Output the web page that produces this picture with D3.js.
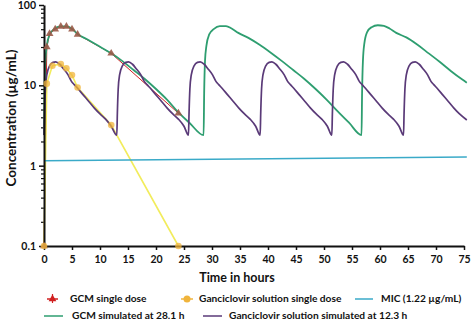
<!DOCTYPE html>
<html>
<head>
<meta charset="utf-8">
<script src="https://cdn.jsdelivr.net/npm/d3@7"></script>
<style>
  body { margin: 0; background: #fff; }
  text { font-family: Lato, "Liberation Sans", sans-serif; font-weight: bold; fill: #111; }
</style>
</head>
<body>
<svg id="chart" width="472" height="326"></svg>
<script>
// tick values
var xTicks = [0, 5, 10, 15, 20, 25, 30, 35, 40, 45, 50, 55, 60, 65, 70, 75];
var yTicks = [0.1, 1, 10, 100];
var yTickLabels = ["0.1", "1", "10", "100"];

// observed data (time h, conc ug/mL)
var gcmObserved = [[0, 0.1], [0.5, 30], [1, 44], [2, 50], [3, 54], [4, 54], [5, 50], [6, 43], [12, 25], [24, 4.5]];
var solutionObserved = [[0, 0.1], [0.5, 10.5], [1.5, 17.5], [3, 18.4], [4, 16.3], [5, 13.4], [6, 9.4], [12, 3.2], [24, 0.1]];

// MIC line
var micLine = [[0, 1.15], [75.5, 1.28]];

// GCM simulated at 28.1 h
var gcmSimulated = [
  [0, 2.4], [0.1, 8], [0.25, 20], [0.5, 31], [1, 43], [1.8, 50], [2.9, 54], [4, 54], [5, 50.5], [6, 43.5],
  [8, 36.5], [10, 30.2], [12, 25], [14, 20], [16, 15.5], [18, 12], [20, 9], [22, 6.6], [24, 4.6], [26, 3.4], [28.5, 2.4],
  [28.6, 8], [28.75, 20], [29, 31], [29.5, 43], [30.3, 50], [31.4, 54.5], [32.5, 54.5], [33.5, 51], [34.7, 45],
  [36.5, 39], [38.5, 32], [40.5, 25.5], [42.5, 20], [44.5, 15.5], [46.5, 12], [48.5, 9], [50.5, 6.6], [52.5, 4.7], [54.5, 3.4], [56.7, 2.4],
  [56.8, 8], [56.95, 20], [57.2, 33], [57.7, 46], [58.5, 53], [59.6, 56], [60.7, 55], [61.7, 51], [62.9, 45],
  [64.7, 39.5], [66.7, 32], [68.7, 25], [70.7, 19.5], [72.7, 15], [74.7, 11.8], [75.5, 10.8]
];

// Ganciclovir solution simulated at 12.3 h
var solutionSimulated = [
  [0, 2.4], [0.1, 4.5], [0.25, 9], [0.5, 13.5], [1, 17.5], [1.6, 19.3], [2.1, 19.6], [2.8, 18.3], [3.5, 16], [4.3, 13.5],
  [4.9, 11.2], [5.4, 10.2], [6, 9.2], [7, 7.6], [8, 6.3], [9, 5.2], [10, 4.4], [11, 3.8], [12, 3.1], [13, 2.4],
  [13.1, 4.5], [13.25, 9], [13.5, 13.5], [14, 17.5], [14.6, 19.3], [15.1, 19.6], [15.8, 18.3], [16.5, 16], [17.3, 13.5],
  [17.9, 11.2], [18.4, 10.2], [19, 9.2], [20, 7.6], [21, 6.3], [22, 5.2], [23, 4.4], [24, 3.8], [25, 3.1], [25.8, 2.4],
  [25.9, 4.5], [26.05, 9], [26.3, 13.5], [26.8, 17.5], [27.4, 19.3], [27.9, 19.6], [28.6, 18.3], [29.3, 16], [30.1, 13.5],
  [30.7, 11.2], [31.2, 10.2], [31.8, 9.2], [32.8, 7.6], [33.8, 6.3], [34.8, 5.2], [35.8, 4.4], [36.8, 3.8], [37.8, 3.1], [38.6, 2.4],
  [38.7, 4.5], [38.85, 9], [39.1, 13.5], [39.6, 17.5], [40.2, 19.3], [40.7, 19.6], [41.4, 18.3], [42.1, 16], [42.9, 13.5],
  [43.5, 11.2], [44, 10.2], [44.6, 9.2], [45.6, 7.6], [46.6, 6.3], [47.6, 5.2], [48.6, 4.4], [49.6, 3.8], [50.6, 3.1], [51.4, 2.4],
  [51.5, 4.5], [51.65, 9], [51.9, 13.5], [52.4, 17.5], [53, 19.3], [53.5, 19.6], [54.2, 18.3], [54.9, 16], [55.7, 13.5],
  [56.3, 11.2], [56.8, 10.2], [57.4, 9.2], [58.4, 7.6], [59.4, 6.3], [60.4, 5.2], [61.4, 4.4], [62.4, 3.8], [63.4, 3.1], [64.2, 2.4],
  [64.3, 4.5], [64.45, 9], [64.7, 13.5], [65.2, 17.5], [65.8, 19.3], [66.3, 19.6], [67, 18.3], [67.7, 16], [68.5, 13.5],
  [69.1, 11.2], [69.6, 10.2], [70.2, 9.2], [71.2, 7.6], [72.2, 6.3], [73.2, 5.2], [74.2, 4.4], [75.5, 3.7]
];

var colGreen = "#2e9e70", colPurple = "#5a3a78", colMic = "#3aaac8",
    colYellow = "#f2ec5c", colCircle = "#f0b43c", colRed = "#d02020";

var svg = d3.select("#chart");

var x = d3.scaleLinear().domain([0, 75]).range([44, 464]);
var y = d3.scaleLog().domain([0.1, 100]).range([246, 5]);

// minor ticks on y
var minorTicks = [];
[0.1, 1, 10].forEach(function(d) {
  for (var k = 2; k <= 9; k++) minorTicks.push(d * k);
});
svg.append("g")
  .attr("transform", "translate(44,0)")
  .call(d3.axisLeft(y).tickValues(minorTicks).tickSize(3).tickFormat(""))
  .call(function(g) { g.select(".domain").remove(); })
  .selectAll("line").attr("stroke", "#111").attr("stroke-width", 1.2);

var line = d3.line()
  .x(function(d) { return x(d[0]); })
  .y(function(d) { return y(d[1]); });
var smooth = d3.line()
  .x(function(d) { return x(d[0]); })
  .y(function(d) { return y(d[1]); })
  .curve(d3.curveMonotoneX);

// observed lines (under the simulated ones)
svg.append("path").datum(gcmObserved)
  .attr("d", line).attr("fill", "none")
  .attr("stroke", colRed).attr("stroke-width", 1);
svg.append("path").datum(solutionObserved)
  .attr("d", line).attr("fill", "none")
  .attr("stroke", colYellow).attr("stroke-width", 1.6);

// simulated lines
svg.append("path").datum(micLine)
  .attr("d", line).attr("fill", "none")
  .attr("stroke", colMic).attr("stroke-width", 1.6);
svg.append("path").datum(gcmSimulated)
  .attr("d", smooth).attr("fill", "none")
  .attr("stroke", colGreen).attr("stroke-width", 1.8);
svg.append("path").datum(solutionSimulated)
  .attr("d", smooth).attr("fill", "none")
  .attr("stroke", colPurple).attr("stroke-width", 1.7);

var gy = svg.append("g")
  .attr("transform", "translate(44,0)")
  .call(d3.axisLeft(y).tickValues(yTicks).tickSize(5).tickSizeOuter(0)
    .tickFormat(function(d, i) { return yTickLabels[i]; }));
gy.select(".domain").attr("stroke", "#111").attr("stroke-width", 2);
gy.selectAll("line").attr("stroke", "#111").attr("stroke-width", 1.5);
gy.selectAll("text").style("font-size", "10.5px").attr("x", -8);

var gx = svg.append("g")
  .attr("transform", "translate(0,246)")
  .call(d3.axisBottom(x).tickValues(xTicks).tickSize(4).tickSizeOuter(0));
gx.select(".domain").attr("stroke", "#111").attr("stroke-width", 2);
gx.selectAll("line").attr("stroke", "#111").attr("stroke-width", 1.5);
gx.selectAll("text").style("font-size", "10.5px").attr("y", 10);

// axis titles
svg.append("text")
  .attr("transform", "translate(16,118) rotate(-90)")
  .attr("text-anchor", "middle")
  .style("font-size", "13.5px")
  .text("Concentration (µg/mL)");

svg.append("text")
  .attr("x", 237).attr("y", 282)
  .attr("text-anchor", "middle")
  .style("font-size", "12.5px")
  .text("Time in hours");

// markers
var tri = d3.symbol().type(d3.symbolTriangle).size(26);
svg.selectAll(".tri").data(gcmObserved).enter()
  .append("path").attr("class", "tri")
  .attr("d", tri)
  .attr("transform", function(d) { return "translate(" + x(d[0]) + "," + y(d[1]) + ")"; })
  .attr("fill", "#9a5a48").attr("opacity", 0.9);

svg.selectAll(".circ").data(solutionObserved).enter()
  .append("circle").attr("class", "circ")
  .attr("cx", function(d) { return x(d[0]); })
  .attr("cy", function(d) { return y(d[1]); })
  .attr("r", 3.3)
  .attr("fill", colCircle).attr("opacity", 0.75);

// legend
var leg = svg.append("g").style("font-size", "10.2px");
var r1 = 302, r2 = 319;

leg.append("line").attr("x1", 47).attr("x2", 58).attr("y1", r1 - 3).attr("y2", r1 - 3)
  .attr("stroke", colRed).attr("stroke-width", 1.5);
leg.append("line").attr("x1", 52.5).attr("x2", 52.5).attr("y1", r1 - 8).attr("y2", r1 + 1)
  .attr("stroke", colRed).attr("stroke-width", 1.2);
leg.append("path").attr("d", tri).attr("transform", "translate(52.5," + (r1 - 3) + ")").attr("fill", colRed);
leg.append("text").attr("x", 70).attr("y", r1).text("GCM single dose");

leg.append("line").attr("x1", 181).attr("x2", 193).attr("y1", r1 - 3).attr("y2", r1 - 3)
  .attr("stroke", colCircle).attr("stroke-width", 1.5);
leg.append("circle").attr("cx", 187).attr("cy", r1 - 3).attr("r", 3.5).attr("fill", colCircle);
leg.append("text").attr("x", 199).attr("y", r1).text("Ganciclovir solution single dose");

leg.append("line").attr("x1", 355).attr("x2", 373).attr("y1", r1 - 3).attr("y2", r1 - 3)
  .attr("stroke", colMic).attr("stroke-width", 1.5);
leg.append("text").attr("x", 381).attr("y", r1).text("MIC (1.22 µg/mL)");

leg.append("line").attr("x1", 44).attr("x2", 63).attr("y1", r2 - 3).attr("y2", r2 - 3)
  .attr("stroke", colGreen).attr("stroke-width", 1.5);
leg.append("text").attr("x", 72).attr("y", r2).text("GCM simulated at 28.1 h");

leg.append("line").attr("x1", 203).attr("x2", 222).attr("y1", r2 - 3).attr("y2", r2 - 3)
  .attr("stroke", colPurple).attr("stroke-width", 1.5);
leg.append("text").attr("x", 229).attr("y", r2).text("Ganciclovir solution simulated at 12.3 h");
</script>
</body>
</html>
